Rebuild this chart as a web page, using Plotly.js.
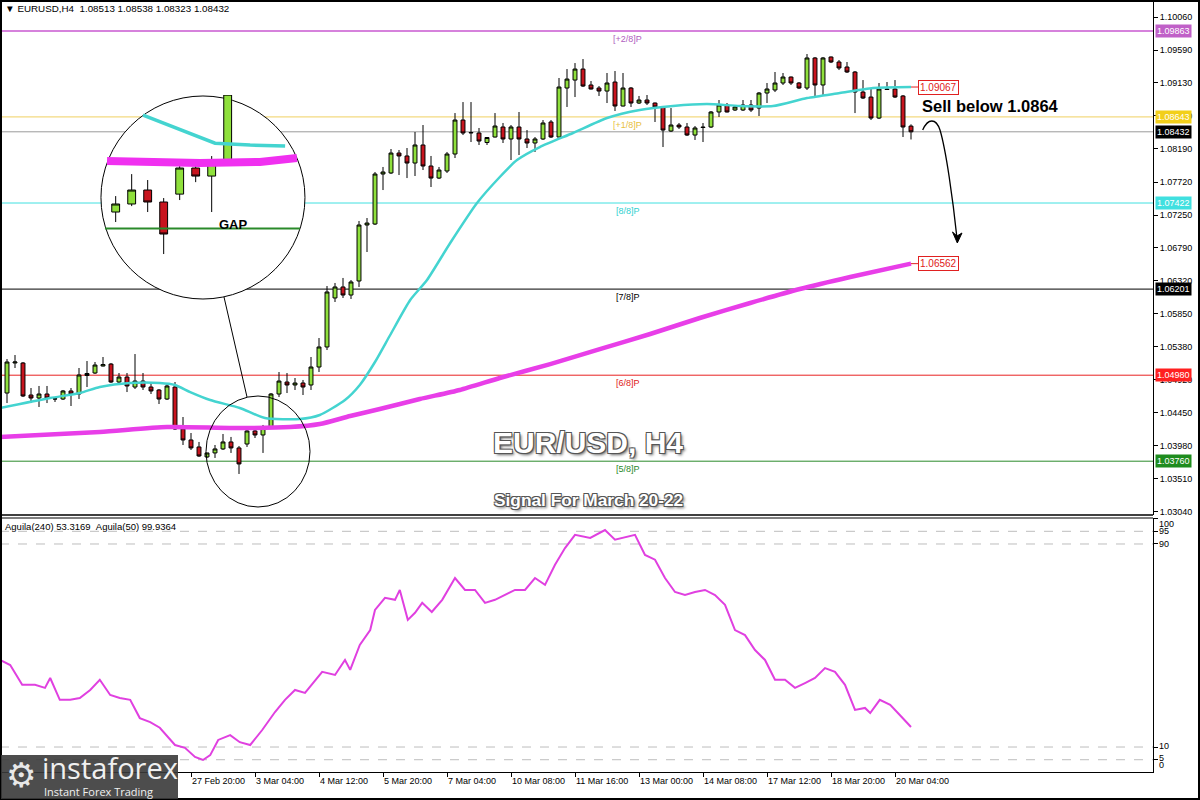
<!DOCTYPE html>
<html><head><meta charset="utf-8">
<script src="https://cdn.plot.ly/plotly-3.0.1.min.js"></script>
<style>html,body{margin:0;padding:0;background:#fff}#chart{width:1200px;height:800px}</style>
</head><body><div id="chart"></div>
<script>
// ---------------- DATA ----------------
const open=[1.04727,1.05153,1.05153,1.04699,1.04656,1.04713,1.04642,1.04642,1.04756,1.04713,
1.04976,1.05011,1.05110,1.05138,1.04883,1.04954,1.04812,1.04897,1.04812,1.04770,
1.04642,1.04812,1.04217,1.04061,1.03962,1.03820,1.03877,1.03934,1.04033,1.03948,
1.04004,1.04189,1.04132,1.04245,1.04713,1.04883,1.04841,1.04869,1.04841,1.05096,
1.05380,1.06075,1.06231,1.06117,1.06316,1.07110,1.07124,1.07833,1.07848,1.08131,
1.08089,1.07989,1.08245,1.07947,1.07776,1.07876,1.08117,1.08599,1.08415,1.08415,
1.08280,1.08358,1.08500,1.08330,1.08500,1.08330,1.08273,1.08330,1.08571,1.08358,
1.09053,1.09166,1.09322,1.09096,1.09053,1.09010,1.09138,1.08798,1.09053,1.08840,
1.08883,1.08840,1.08784,1.08443,1.08528,1.08500,1.08386,1.08500,1.08500,1.08713,
1.08812,1.08741,1.08741,1.08812,1.08769,1.08982,1.09025,1.09124,1.09209,1.09124,
1.09053,1.09479,1.09096,1.09493,1.09422,1.09351,1.09280,1.08996,1.08925,1.08627,
1.09039,1.09039,1.08940,1.08513];
const high=[1.05209,1.05266,1.05167,1.04798,1.04827,1.04827,1.04670,1.04770,1.04798,1.05082,
1.05181,1.05167,1.05238,1.05153,1.05011,1.05011,1.05280,1.05011,1.04869,1.04784,
1.04869,1.04883,1.04387,1.04160,1.04033,1.03877,1.03990,1.04146,1.04104,1.03976,
1.04203,1.04231,1.04274,1.04727,1.05025,1.05011,1.04940,1.04912,1.05238,1.05507,
1.06245,1.06288,1.06359,1.06330,1.07167,1.07209,1.07862,1.07933,1.08188,1.08174,
1.08202,1.08429,1.08528,1.08089,1.07933,1.08146,1.08698,1.08854,1.08854,1.08486,
1.08358,1.08698,1.08557,1.08528,1.08713,1.08457,1.08358,1.08599,1.08599,1.09195,
1.09322,1.09407,1.09464,1.09152,1.09081,1.09266,1.09294,1.09266,1.09067,1.08940,
1.08954,1.08847,1.08798,1.08769,1.08557,1.08557,1.08514,1.08557,1.08727,1.08883,
1.08840,1.08798,1.08883,1.08883,1.08996,1.09124,1.09280,1.09266,1.09216,1.09138,
1.09535,1.09493,1.09493,1.09500,1.09450,1.09422,1.09294,1.09166,1.09039,1.09124,
1.09138,1.09166,1.08954,1.08538];
const low=[1.04585,1.05082,1.04670,1.04585,1.04529,1.04585,1.04600,1.04628,1.04543,1.04642,
1.04812,1.04997,1.05103,1.04869,1.04855,1.04741,1.04784,1.04770,1.04713,1.04571,
1.04628,1.04203,1.03990,1.03919,1.03820,1.03806,1.03806,1.03919,1.03877,1.03579,
1.03962,1.04089,1.03877,1.04231,1.04670,1.04727,1.04770,1.04699,1.04770,1.05025,
1.05337,1.06018,1.06075,1.06061,1.06231,1.06727,1.07110,1.07606,1.07833,1.07819,
1.07776,1.07805,1.07890,1.07649,1.07762,1.07848,1.08060,1.08386,1.08287,1.08245,
1.08245,1.08351,1.08273,1.08032,1.08103,1.08202,1.08146,1.08316,1.08344,1.08351,
1.08784,1.08925,1.09067,1.09032,1.08940,1.08840,1.08727,1.08791,1.08784,1.08826,
1.08812,1.08571,1.08216,1.08429,1.08472,1.08372,1.08316,1.08287,1.08486,1.08642,
1.08706,1.08727,1.08727,1.08713,1.08656,1.08840,1.08996,1.09096,1.09096,1.09039,
1.09025,1.08911,1.08954,1.09407,1.09308,1.09266,1.08698,1.08897,1.08599,1.08613,
1.09025,1.08911,1.08358,1.08323];
const close=[1.05167,1.05167,1.04685,1.04656,1.04713,1.04656,1.04645,1.04756,1.04713,1.04983,
1.05004,1.05124,1.05131,1.04883,1.04954,1.04827,1.04897,1.04812,1.04756,1.04642,
1.04827,1.04217,1.04061,1.03948,1.03834,1.03877,1.03934,1.04033,1.03948,1.03721,
1.04189,1.04132,1.04245,1.04713,1.04897,1.04841,1.04869,1.04812,1.05096,1.05380,
1.06160,1.06231,1.06117,1.06302,1.07110,1.07138,1.07833,1.07862,1.08131,1.08089,
1.07989,1.08245,1.07947,1.07776,1.07890,1.08117,1.08599,1.08415,1.08422,1.08301,
1.08351,1.08514,1.08330,1.08500,1.08330,1.08273,1.08330,1.08557,1.08358,1.09067,
1.09180,1.09322,1.09081,1.09039,1.09010,1.09124,1.08798,1.09053,1.08840,1.08883,
1.08840,1.08784,1.08457,1.08528,1.08500,1.08386,1.08486,1.08493,1.08713,1.08812,
1.08713,1.08784,1.08812,1.08741,1.08982,1.09039,1.09124,1.09209,1.09124,1.09053,
1.09479,1.09096,1.09479,1.09422,1.09337,1.09280,1.08996,1.08911,1.08627,1.09039,
1.09032,1.08925,1.08500,1.08432];

const tickIdx=[23,31,39,47,55,63,71,79,87,95,103,111];
const tickLabels=["27 Feb 20:00","3 Mar 04:00","4 Mar 12:00","5 Mar 20:00","7 Mar 04:00","10 Mar 08:00","11 Mar 16:00","13 Mar 00:00","14 Mar 08:00","17 Mar 12:00","18 Mar 20:00","20 Mar 04:00"];
const priceTicks=[1.10060,1.09590,1.09130,1.08660,1.08190,1.07720,1.07250,1.06790,1.06320,1.05850,1.05380,1.04920,1.04450,1.03980,1.03510,1.03040];
const indTicks=[0,5,10,90,95,100];
const indLevels=[95,90,10,5];

const cyanX=[-0.875,5.4,9.1,11.6,15.4,19.1,21,22.9,25.4,29.1,32.25,36.6,39.1,42.25,44.1,46,47.9,50.4,52.5,55.4,58.75,61.6,63.75,66.6,70.75,75,79.1,83.25,87.5,91.6,95.75,100,104.1,108.25,113];
const cyanY=[1.04515,1.04656,1.04727,1.04812,1.04869,1.04869,1.04841,1.04741,1.04628,1.04515,1.04372,1.04358,1.04415,1.04628,1.04841,1.05167,1.05550,1.06046,1.06330,1.06855,1.07422,1.07791,1.08032,1.08216,1.08415,1.08627,1.08741,1.08798,1.08826,1.08798,1.08798,1.08911,1.08982,1.09053,1.09067];
const magX=[-0.875,11.6,20,28.25,35.4,39.1,42.9,46.6,51.6,56.6,61.6,67.9,74.1,80.4,86.6,92.9,99.1,105.4,113];
const magY=[1.04104,1.04175,1.04245,1.04231,1.04245,1.04287,1.04401,1.04500,1.04642,1.04770,1.04940,1.05138,1.05351,1.05564,1.05791,1.06004,1.06202,1.06373,1.06562];

const indX=[-0.875,0.4,1.9,3.5,4.75,5.4,6.6,7.9,9.1,10.4,11.6,12.9,14.1,15.4,16.6,17.9,19.1,21,22.25,23.5,24.5,25.4,26.4,27.9,29.1,30.4,31.9,33.5,34.75,36,37.25,38.1,39.4,41,42.25,42.9,44.1,45.4,46,47.25,48.5,49.1,50.1,51,51.9,53.1,54.4,56,57.25,58.5,59.75,61,62.25,63.5,64.75,66,67.25,68.5,69.75,71,72.9,74.75,76,77.25,78.5,79.75,81,82.25,83.5,84.75,86,87.25,88.5,89.75,91,92.25,93.5,94.75,96,97.25,98.5,99.75,101,102.25,103.5,104.75,106,107.25,107.9,109.1,110.4,111.6,113];
const indV=[44.3,42.3,34.5,34.5,33.3,37.2,28.6,28.6,29.3,32.5,36.5,30.5,29.3,28.6,21.4,19.8,17.6,10.8,9.7,6.1,4.9,6.8,12.8,14.7,11.9,10.8,16.7,23.8,28.6,32.5,31.3,34.5,39.6,38.4,44.3,40.4,50.2,56.1,64.0,68.8,68.0,71.9,60.1,62.9,66.8,63.2,68.0,76.6,71.9,71.9,66.8,68.0,69.9,71.9,71.9,76.6,73.9,81.8,88.4,93.6,92.4,95.5,91.7,92.8,93.6,85.7,83.8,76.6,71.1,69.9,71.1,71.9,69.9,66.0,56.1,54.1,48.2,44.3,36.5,36.5,33.3,35.2,37.2,41.1,39.6,34.5,24.6,25.4,23.4,28.6,26.6,22.6,17.9];

const levelVals=[1.09863,1.08643,1.07422,1.06201,1.04980,1.03760];
const levelNames=["[+2/8]P","[+1/8]P","[8/8]P","[7/8]P","[6/8]P","[5/8]P"];
const bidPrice=1.08432;
const maCyanLast=1.09067, maMagLast=1.06562;

// inset (magnified) lines
const insetCyanX=[27.71,32.21,34.40,36.59];
const insetCyanY=[1.04565,1.04365,1.04352,1.04345];
const insetMagX=[25.46,31.27,35.02,37.33];
const insetMagY=[1.04239,1.04225,1.04232,1.04260];
const insetLevelX=[25.33,37.52];
const insetFirst=26, insetLast=33;

// ---------------- STYLE / LAYOUT HELPERS ----------------
const W=1153, PH=770, BOT=772;
const px=x=>x/W, py=y=>(BOT-y)/PH;
const FONT="Liberation Sans, Arial, sans-serif";
const lvlColors=["#c858d0","#f0d060","#40e0e0","#000000","#e82020","#2a8a2a"];
const lvlText=["#b060c0","#e8c040","#30d0d0","#000000","#e02020","#2a8a2a"];
const boxColors=["#c060c8","#f2cf1a","#40e0e0","#000000","#ff2020","#1e8c1e"];
const GREEN="#8fe03c", RED="#c8141e";

const xs=open.map((_,i)=>i);
const sub=a=>a.slice(insetFirst,insetLast+1);

const candleStyle={
  increasing:{line:{color:"#000",width:1},fillcolor:GREEN},
  decreasing:{line:{color:"#000",width:1},fillcolor:RED},
  whiskerwidth:0, hoverinfo:"skip", showlegend:false
};

const traces=[
  Object.assign({type:"candlestick",x:xs,open:open,high:high,low:low,close:close,xaxis:"x",yaxis:"y"},candleStyle),
  {type:"scatter",mode:"lines",x:cyanX,y:cyanY,xaxis:"x",yaxis:"y",line:{color:"#44d4d0",width:2.5,shape:"spline",smoothing:0.6},hoverinfo:"skip",showlegend:false},
  {type:"scatter",mode:"lines",x:magX,y:magY,xaxis:"x",yaxis:"y",line:{color:"#e83ee8",width:4.5,shape:"spline",smoothing:0.6},hoverinfo:"skip",showlegend:false},
  {type:"scatter",mode:"lines",x:indX,y:indV,xaxis:"x",yaxis:"y2",line:{color:"#e040e0",width:2},hoverinfo:"skip",showlegend:false},
  // inset
  {type:"scatter",mode:"lines",x:insetLevelX,y:[levelVals[5],levelVals[5]],xaxis:"x2",yaxis:"y3",line:{color:"#2a8a2a",width:2},hoverinfo:"skip",showlegend:false},
  {type:"scatter",mode:"lines",x:insetCyanX,y:insetCyanY,xaxis:"x2",yaxis:"y3",line:{color:"#44d4d0",width:3.5},hoverinfo:"skip",showlegend:false},
  {type:"scatter",mode:"lines",x:insetMagX,y:insetMagY,xaxis:"x2",yaxis:"y3",line:{color:"#f030f0",width:8},hoverinfo:"skip",showlegend:false},
  Object.assign({type:"candlestick",x:sub(xs),open:sub(open),high:sub(high),low:sub(low),close:sub(close),xaxis:"x2",yaxis:"y3"},candleStyle)
];

const shapes=[];
levelVals.forEach((v,k)=>shapes.push({type:"line",xref:"paper",x0:0,x1:1,yref:"y",y0:v,y1:v,layer:"below",line:{color:lvlColors[k],width:k===0?1.5:1}}));
shapes.push({type:"line",xref:"paper",x0:0,x1:1,yref:"y",y0:bidPrice,y1:bidPrice,layer:"below",line:{color:"#9a9a9a",width:1}});
indLevels.forEach(v=>shapes.push({type:"line",xref:"paper",x0:0,x1:1,yref:"y2",y0:v,y1:v,layer:"below",line:{color:"#bdbdbd",width:1,dash:"dash"}}));
// big magnifier circle (white, covers main chart)
shapes.push({type:"circle",xref:"x2",yref:"y3",x0:25.08,x1:37.83,y0:1.03260,y1:1.04700,layer:"below",fillcolor:"#ffffff",line:{color:"#000",width:1}});
// small circle and connector
shapes.push({type:"circle",xref:"paper",yref:"paper",x0:px(206),x1:px(310),y0:py(507),y1:py(396),layer:"above",line:{color:"#000",width:1}});
shapes.push({type:"line",xref:"paper",yref:"paper",x0:px(224),y0:py(297),x1:px(247),y1:py(397),layer:"above",line:{color:"#000",width:1}});
// MA label connectors
shapes.push({type:"line",xref:"x",yref:"y",x0:113,x1:113.9,y0:maCyanLast,y1:maCyanLast,line:{color:"#e02020",width:1}});
shapes.push({type:"line",xref:"x",yref:"y",x0:113,x1:113.9,y0:maMagLast,y1:maMagLast,line:{color:"#e02020",width:1}});
// curved arrow
shapes.push({type:"path",xref:"x",yref:"y",layer:"above",line:{color:"#000",width:1.3},
  path:"M 114.46,1.08457 C 115.125,1.08628 116.125,1.08628 116.625,1.08457 C 117.375,1.08174 118.25,1.07465 118.75,1.06920"});
shapes.push({type:"path",xref:"x",yref:"y",layer:"above",fillcolor:"#000",line:{color:"#000",width:1},
  path:"M 118.79,1.06855 L 118.19,1.07011 L 118.75,1.06954 L 119.375,1.06997 Z"});
// panel frames
shapes.push({type:"line",xref:"paper",yref:"paper",x0:0,x1:1,y0:py(515),y1:py(515),layer:"above",line:{color:"#000",width:1.5}});
shapes.push({type:"line",xref:"paper",yref:"paper",x0:0,x1:1,y0:py(518),y1:py(518),layer:"above",line:{color:"#000",width:1}});
shapes.push({type:"rect",xref:"paper",yref:"paper",x0:px(1),x1:px(1199),y0:py(799),y1:py(1),layer:"above",line:{color:"#000",width:2}});
// logo box
shapes.push({type:"rect",xref:"paper",yref:"paper",x0:px(1),x1:px(178),y0:py(799),y1:py(755),layer:"above",fillcolor:"rgba(58,58,58,0.9)",line:{width:0}});

const ann=[];
const small=(c,s)=>({family:FONT,size:s||9,color:c||"#000"});
ann.push({xref:"paper",yref:"paper",x:px(3),y:py(9),xanchor:"left",yanchor:"middle",showarrow:false,font:small("#000",9.8),
  text:"\u25BC EURUSD,H4\u00a0\u00a0"+[open[113],high[113],low[113],close[113]].map(v=>v.toFixed(5)).join(" ")});
ann.push({xref:"paper",yref:"paper",x:px(3),y:py(526),xanchor:"left",yanchor:"middle",showarrow:false,font:small("#000",9.5),
  text:"Aguila(240) 53.3169\u00a0\u00a0Aguila(50) 99.9364"});
levelVals.forEach((v,k)=>{
  ann.push({xref:"paper",yref:"y",x:px(628),y:v,xanchor:"center",yanchor:"top",yshift:-1,showarrow:false,font:small(lvlText[k]),text:levelNames[k]});
  ann.push({xref:"paper",yref:"y",x:px(1155),y:v,xanchor:"left",yanchor:"middle",showarrow:false,font:small("#fff"),bgcolor:boxColors[k],borderpad:1,text:v.toFixed(5)});
});
ann.push({xref:"paper",yref:"y",x:px(1155),y:bidPrice,xanchor:"left",yanchor:"middle",showarrow:false,font:small("#fff"),bgcolor:"#000",borderpad:1,text:bidPrice.toFixed(5)});
// indicator scale labels (placed as in the reference, where they are nudged apart)
const indLabelY=[765,758,746,544,531,524];
indTicks.forEach((t,k)=>ann.push({xref:"paper",yref:"paper",x:px(1157),y:py(indLabelY[k]),xanchor:"left",yanchor:"middle",showarrow:false,font:small(),text:String(t)}));
[maCyanLast,maMagLast].forEach(v=>ann.push({xref:"x",yref:"y",x:113.9,y:v,xanchor:"left",yanchor:"middle",showarrow:false,
  font:{family:FONT,size:10,color:"#e02020"},bgcolor:"#fff",bordercolor:"#e02020",borderwidth:1,borderpad:1,text:v.toFixed(5)}));
ann.push({xref:"x",yref:"y",x:114.1,y:1.08798,xanchor:"left",yanchor:"middle",showarrow:false,
  font:{family:FONT,size:16.5,color:"#000",weight:"bold"},text:"Sell below 1.0864"});
const shadow="-1px -1px 0 #555, 1px -1px 0 #555, -1px 1px 0 #555, 1px 1px 0 #555, 2px 2px 3px rgba(0,0,0,0.6)";
ann.push({xref:"paper",yref:"paper",x:px(588),y:py(442),xanchor:"center",yanchor:"middle",showarrow:false,
  font:{family:FONT,size:30,color:"#fff",weight:"bold",shadow:shadow},text:"EUR/USD, H4"});
ann.push({xref:"paper",yref:"paper",x:px(588),y:py(500),xanchor:"center",yanchor:"middle",showarrow:false,
  font:{family:FONT,size:17.3,color:"#fff",weight:"bold",shadow:shadow},text:"Signal For March 20-22"});
ann.push({xref:"paper",yref:"paper",x:px(233),y:py(224),xanchor:"center",yanchor:"middle",showarrow:false,
  font:{family:FONT,size:13,color:"#000",weight:"bold"},text:"GAP"});
// logo
ann.push({xref:"paper",yref:"paper",x:px(21),y:py(775),xanchor:"center",yanchor:"middle",showarrow:false,
  font:{family:"DejaVu Sans",size:34,color:"#e8e8e8"},text:"\u2699"});
ann.push({xref:"paper",yref:"paper",x:px(40),y:py(767),xanchor:"left",yanchor:"middle",showarrow:false,
  font:{family:"Open Sans",size:29,color:"#f0f0f0"},text:"instaforex"});
ann.push({xref:"paper",yref:"paper",x:px(42),y:py(791),xanchor:"left",yanchor:"middle",showarrow:false,
  font:{family:"Open Sans",size:11,color:"#f0f0f0"},text:"Instant Forex Trading"});

const layout={
  width:1200,height:800,
  margin:{l:0,r:47,t:2,b:28},
  paper_bgcolor:"#ffffff",plot_bgcolor:"rgba(0,0,0,0)",
  showlegend:false,hovermode:false,dragmode:false,
  font:{family:FONT,size:9,color:"#000"},
  xaxis:{domain:[0,1],range:[-0.875,143.25],anchor:"y2",tickmode:"array",tickvals:tickIdx,ticktext:tickLabels,
    ticks:"outside",ticklen:4,tickcolor:"#000",ticklabelposition:"outside right",tickfont:{family:FONT,size:9,color:"#000"},
    showgrid:false,zeroline:false,showline:true,linecolor:"#000",linewidth:1,rangeslider:{visible:false},fixedrange:true},
  yaxis:{domain:[py(515),1],range:[1.02997,1.10273],anchor:"x",side:"right",tickmode:"array",tickvals:priceTicks,
    ticktext:priceTicks.map(v=>v.toFixed(5)),ticks:"outside",ticklen:4,tickcolor:"#000",tickfont:{family:FONT,size:9,color:"#000"},
    showgrid:false,zeroline:false,showline:true,linecolor:"#000",linewidth:1,fixedrange:true},
  yaxis2:{domain:[0,py(518)],range:[0.16,100.24],anchor:"x",side:"right",tickmode:"array",tickvals:indTicks,
    showticklabels:false,ticks:"outside",ticklen:4,tickcolor:"#000",
    showgrid:false,zeroline:false,showline:true,linecolor:"#000",linewidth:1,fixedrange:true},
  xaxis2:{domain:[px(100),px(306)],range:[25.02,37.895],anchor:"y3",visible:false,rangeslider:{visible:false},fixedrange:true},
  yaxis3:{domain:[py(300),py(95)],range:[1.03253,1.04707],anchor:"x2",visible:false,fixedrange:true},
  shapes:shapes,annotations:ann
};
Plotly.newPlot("chart",traces,layout,{staticPlot:true,displayModeBar:false});
</script></body></html>
